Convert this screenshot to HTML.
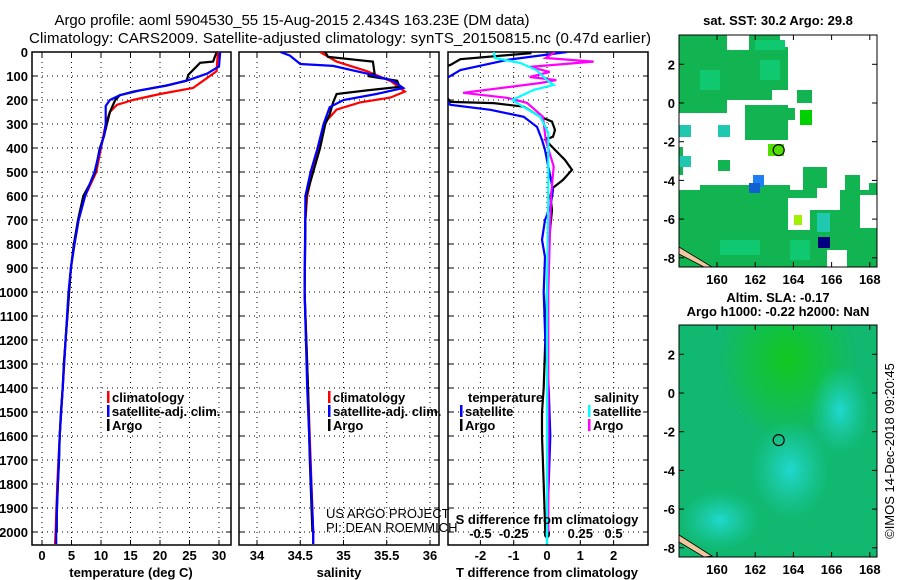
<!DOCTYPE html>
<html><head><meta charset="utf-8"><style>
html,body{margin:0;padding:0;background:#fff;}
svg{display:block;font-family:"Liberation Sans",sans-serif;}
.t{font-weight:bold;font-size:13px;}
</style></head><body>
<svg id="chart" width="900" height="580" viewBox="0 0 900 580" xmlns="http://www.w3.org/2000/svg">
<defs>
<clipPath id="c1"><rect x="32" y="52" width="199" height="493"/></clipPath>
<clipPath id="c2"><rect x="239" y="52" width="200" height="493"/></clipPath>
<clipPath id="c3"><rect x="448" y="52" width="200" height="493"/></clipPath>
<clipPath id="cm1"><rect x="679" y="35" width="198" height="232"/></clipPath>
<clipPath id="cm2"><rect x="679" y="325" width="198" height="232"/></clipPath>
<radialGradient id="g1" cx="0.55" cy="0.15" r="0.35"><stop offset="0" stop-color="#10c820"/><stop offset="1" stop-color="#10c820" stop-opacity="0"/></radialGradient>
<radialGradient id="g2" cx="0.5" cy="0.5" r="0.5"><stop offset="0" stop-color="#20d8d0"/><stop offset="1" stop-color="#20d0b0" stop-opacity="0"/></radialGradient>
</defs>
<text x="292" y="25" text-anchor="middle" textLength="475" font-size="15">Argo profile: aoml 5904530_55 15-Aug-2015 2.434S 163.23E (DM data)</text>
<text x="340" y="43" text-anchor="middle" textLength="622" font-size="15">Climatology: CARS2009. Satellite-adjusted climatology: synTS_20150815.nc (0.47d earlier)</text>
<g id="layer"></g>
</svg>
<script>
// ---- data ----
const depthTicks=[0,100,200,300,400,500,600,700,800,900,1000,1100,1200,1300,1400,1500,1600,1700,1800,1900,2000];
const tempTicks=[0,5,10,15,20,25,30];
const salTicks=[34,34.5,35,35.5,36];
const salTickLabels=["34","34.5","35","35.5","36"];
const tdTicks=[-2,-1,0,1,2];
const sdTicks=[-0.5,-0.25,0,0.25,0.5];
const sdTickLabels=["-0.5","-0.25","0","0.25","0.5"];

const argoTDepth=[0,40,45,95,120,140,165,180,200,250,300,350,400,500,550,600,700,800,900,1000,1100,1200,1300,1400,1500,1600,1700,1800,1900,2000];
const argoTemp=[29.6,29.0,26.8,24.8,24.5,21.0,15.5,13.2,12.4,11.5,11.0,10.5,9.8,9.0,8.1,7.0,6.1,5.4,4.9,4.6,4.3,4.0,3.7,3.5,3.2,3.0,2.9,2.7,2.5,2.5];
const climTDepth=[0,80,120,150,175,200,220,250,300,400,500,600,700,800,900,1000,1200,1400,1600,1800,2000,2050];
const climTemp=[29.8,29.6,27.3,25.6,20.0,15.4,12.7,11.5,10.8,10.0,9.2,7.3,6.2,5.5,4.9,4.6,4.0,3.5,3.0,2.6,2.3,2.2];
const satTDepth=[0,60,90,115,140,160,180,200,225,300,350,400,500,600,700,800,900,1000,1200,1400,1600,1800,2000,2050];
const satTemp=[30.2,30.0,28.0,25.1,21.2,16.6,13.2,11.5,10.8,10.8,10.5,9.9,8.9,7.3,6.2,5.5,4.9,4.5,4.0,3.5,3.0,2.7,2.4,2.4];

const argoSDepth=[0,20,40,90,100,120,145,160,175,210,260,300,400,500,600,700,1000,1400,1700,2000];
const argoSal=[34.79,34.82,35.34,35.36,35.28,35.62,35.65,35.27,34.92,34.88,34.84,34.79,34.73,34.65,34.57,34.56,34.55,34.59,34.61,34.64];
const climSDepth=[0,40,80,120,165,190,210,240,280,300,400,500,600,700,1000,1400,2000,2050];
const climSal=[34.73,34.92,35.27,35.54,35.71,35.54,35.19,34.92,34.82,34.78,34.72,34.64,34.58,34.56,34.55,34.59,34.65,34.65];
const satSDepth=[0,15,50,58,90,120,150,175,200,230,300,400,500,600,1000,1400,2000,2050];
const satSal=[34.27,34.38,34.50,34.88,35.27,35.57,35.69,35.38,35.00,34.84,34.77,34.70,34.62,34.56,34.55,34.58,34.65,34.65];

const argoTdDepth=[0,5,30,54,80,208,213,228,270,290,325,353,366,408,450,491,533,566,600,658,800,1000,1200,1400,1500,1600,1800,2000];
const argoTd=[-0.5,-0.5,-2.6,-2.9,-3.6,-2.9,-1.6,-0.7,-0.2,0.15,0.24,0.18,-0.05,0.24,0.54,0.75,0.48,0.18,0.1,0.15,0.05,0.0,-0.05,-0.1,-0.15,-0.15,-0.1,-0.05];
const satTdDepth=[0,33,75,108,130,220,241,270,312,366,408,575,645,700,783,854,1000,1200,1400,1600,1800,2000,2050];
const satTd=[0.6,-1.2,-2.6,-3.0,-3.6,-2.9,-1.7,-0.7,-0.3,-0.15,-0.06,0.18,0.1,-0.06,-0.15,-0.06,-0.1,-0.05,0.05,0.1,0.05,0.0,0.0];
const argoSdDepth=[0,25,40,62,83,104,117,129,170,191,212,270,366,478,600,1000,1500,2000];
const argoSd=[0.06,-0.01,0.35,-0.13,0.02,-0.13,0.07,-0.05,-0.63,-0.3,-0.15,-0.03,-0.01,0.05,0.03,0.01,0.01,0.01];
const satSdDepth=[0,25,46,75,117,137,158,200,228,270,337,600,1000,1500,2000,2050];
const satSd=[-0.4,-0.39,-0.2,-0.08,0.0,0.05,-0.1,-0.26,-0.18,-0.05,0.01,0.01,0.0,0.0,0.0,0.0];

const mapLatTicks=[2,0,-2,-4,-6,-8];
const mapLonTicks=[160,162,164,166,168];

// ---- scales ----
const yD=d=>52+d*0.24;
const xT=t=>42+t*5.9;
const xS=s=>257+(s-34)*86.5;
const xTd=t=>547+t*33.3;
const xSd=s=>547+s*133.2;
const NS="http://www.w3.org/2000/svg";
const L=document.getElementById('layer');
function mk(tag,at,parent){const e=document.createElementNS(NS,tag);for(const k in at)e.setAttribute(k,at[k]);(parent||L).appendChild(e);return e;}
function txt(x,y,s,cls,anchor,parent){const e=mk('text',{x:x,y:y,'text-anchor':anchor||'start'},parent);if(cls)e.setAttribute('class',cls);e.textContent=s;return e;}

function panel(x0,x1,xt,xs,labels,name){
  const g=mk('g',{});
  
  
  depthTicks.forEach(d=>{const y=yD(d);
    mk('line',{x1:x0,x2:x1,y1:y,y2:y,stroke:'#000','stroke-dasharray':'1,4','stroke-width':1},g);
    mk('line',{x1:x0,x2:x0+5,y1:y,y2:y,stroke:'#000'},g);mk('line',{x1:x1-5,x2:x1,y1:y,y2:y,stroke:'#000'},g);});
  xt.forEach((v,i)=>{const x=xs(v);
    mk('line',{x1:x,x2:x,y1:52,y2:545,stroke:'#000','stroke-dasharray':'1,4'},g);
    mk('line',{x1:x,x2:x,y1:52,y2:57,stroke:'#000'},g);mk('line',{x1:x,x2:x,y1:540,y2:545,stroke:'#000'},g);
    if(labels){const t=txt(x,560,labels[i],'t','middle',g);}});
  mk('rect',{x:x0,y:52,width:x1-x0,height:493,fill:'none',stroke:'#000','stroke-width':1.5},g);
  return g;
}
function line(xs,vals,deps,col,clip,name){
  const pts=vals.map((v,i)=>xs(v).toFixed(1)+','+yD(deps[i]).toFixed(1)).join(' ');
  const p=mk('polyline',{points:pts,fill:'none',stroke:col,'stroke-width':2.2,'clip-path':'url(#'+clip+')'});
  
  
}
depthTicks.forEach(d=>{const t=txt(28,yD(d)+5,String(d),'t','end');});

panel(32,231,tempTicks,xT,tempTicks.map(String),'temperature-panel');
panel(239,439,salTicks,xS,salTickLabels,'salinity-panel');
panel(448,648,tdTicks,xTd,tdTicks.map(String),'difference-panel');
sdTicks.forEach((v,i)=>{const t=txt(xSd(v),538,sdTickLabels[i],'t','middle');});

line(xT,climTemp,climTDepth,'#ff0000','c1','temp-climatology-line');
line(xT,argoTemp,argoTDepth,'#000000','c1','temp-argo-line');
line(xT,satTemp,satTDepth,'#0000ff','c1','temp-satellite-line');
line(xS,climSal,climSDepth,'#ff0000','c2','sal-climatology-line');
line(xS,argoSal,argoSDepth,'#000000','c2','sal-argo-line');
line(xS,satSal,satSDepth,'#0000ff','c2','sal-satellite-line');
line(xTd,argoTd,argoTdDepth,'#000000','c3','tdiff-argo-line');
line(xTd,satTd,satTdDepth,'#0000ff','c3','tdiff-satellite-line');
line(xSd,argoSd,argoSdDepth,'#ff00ff','c3','sdiff-argo-line');
line(xSd,satSd,satSdDepth,'#00ffff','c3','sdiff-satellite-line');

let e;
e=txt(131,577,'temperature (deg C)','t','middle');
e=txt(339,577,'salinity','t','middle');
e=txt(547,577,'T difference from climatology','t','middle');
e=txt(547,524,'S difference from climatology','t','middle');
e=txt(326,518,'US ARGO PROJECT','','start');e.setAttribute('font-size','13');
e=txt(326,532,'PI: DEAN ROEMMICH','','start');e.setAttribute('font-size','13');

function legend(x,y,col,label){
  const g=mk('g',{});
  
  
  mk('rect',{x:x,y:y-11,width:2.5,height:12,fill:col},g);
  txt(x+5,y,label,'t','start',g);
}
legend(107,402,'#ff0000','climatology');legend(107,416,'#0000ff','satellite-adj. clim.');legend(107,430,'#000','Argo');
legend(328,402,'#ff0000','climatology');legend(328,416,'#0000ff','satellite-adj. clim.');legend(328,430,'#000','Argo');
e=txt(468,402,'temperature','t','start');
e=txt(594,402,'salinity','t','start');
legend(460,416,'#0000ff','satellite');legend(460,430,'#000','Argo');
legend(588,416,'#00ffff','satellite');legend(588,430,'#ff00ff','Argo');

// ---- maps ----
const lonX=lon=>717+(lon-160)*19.1;
function map(top,lat0y,name,fill){
  const latY=lat=>lat0y-lat*19.35;
  const g=mk('g',{});
  
  
  fill(g);
  mk('rect',{x:679,y:top,width:198,height:232,fill:'none',stroke:'#000','stroke-width':1},g);
  mapLatTicks.forEach(l=>{const y=latY(l);
    mk('line',{x1:679,x2:684,y1:y,y2:y,stroke:'#000'},g);mk('line',{x1:872,x2:877,y1:y,y2:y,stroke:'#000'},g);
    txt(675,y+5,String(l),'t','end',g);});
  mapLonTicks.forEach(l=>{const x=lonX(l);
    mk('line',{x1:x,x2:x,y1:top,y2:top+5,stroke:'#000'},g);mk('line',{x1:x,x2:x,y1:top+227,y2:top+232,stroke:'#000'},g);
    txt(x,top+249,String(l),'t','middle',g);});
  mk('circle',{cx:lonX(163.23),cy:latY(-2.434),r:5.5,fill:'none',stroke:'#000','stroke-width':1.2},g);
}
function R(g,b,c){mk('rect',{x:b[0],y:b[1],width:b[2]-b[0],height:b[3]-b[1],fill:c,'clip-path':'url(#cm1)'},g);}
map(35,103,'sst-map',function(g){
  mk('rect',{x:679,y:35,width:198,height:232,fill:'#fff'},g);
  const G='#12b451';
  [[679,35,727,113],[690,50,772,100],[749,35,780,58],[753,47,788,90],[745,105,788,140],[784,108,795,120],[797,90,812,103],
   [679,147,683,175],[718,160,730,171],[803,167,827,193],[845,175,860,193],[869,183,877,194],
   [679,190,877,267],[700,185,790,195]].forEach(b=>R(g,b,G));
  [[788,198,817,230],[817,188,840,227],[860,195,877,228],[827,250,847,267]].forEach(b=>R(g,b,'#fff'));
  R(g,[810,210,840,235],G);
  [[755,40,785,50],[760,60,780,80],[700,70,720,90],[720,240,760,255],[790,240,810,260]].forEach(b=>R(g,b,'#0fc870'));
  [[679,125,691,137],[718,125,730,137],[679,156,691,167],[817,213,830,232]].forEach(b=>R(g,b,'#20c8b0'));
  R(g,[800,110,812,125],'#00d000');
  R(g,[768,144,784,156],'#50e000');
  R(g,[753,175,764,187],'#1e80f0');
  R(g,[749,183,760,193],'#1060d0');
  R(g,[818,237,830,248],'#000080');
  R(g,[794,215,802,225],'#a0f000');
  mk('polygon',{points:'679,247 712,267 704,267 679,254',fill:'#f0c8a0',stroke:'#000','stroke-width':0.8,'clip-path':'url(#cm1)'},g);
});
map(325,393,'sla-map',function(g){
  mk('rect',{x:679,y:325,width:198,height:232,fill:'#10b870'},g);
  mk('rect',{x:679,y:325,width:198,height:232,fill:'url(#g1)'},g);
  mk('ellipse',{cx:790,cy:470,rx:40,ry:50,fill:'url(#g2)'},g);
  mk('ellipse',{cx:840,cy:410,rx:30,ry:45,fill:'url(#g2)'},g);
  mk('ellipse',{cx:720,cy:520,rx:40,ry:30,fill:'url(#g2)'},g);
  mk('polygon',{points:'679,535 712,556 704,557 679,542',fill:'#f0c8a0',stroke:'#000','stroke-width':0.8},g);
});
e=txt(778,25,'sat. SST: 30.2 Argo: 29.8','t','middle');
e=txt(778,302,'Altim. SLA: -0.17','t','middle');
e=txt(778,316,'Argo h1000: -0.22 h2000: NaN','t','middle');
e=txt(0,0,'©IMOS 14-Dec-2018 09:20:45','','middle');e.setAttribute('font-size','13');e.setAttribute('transform','translate(894,451) rotate(-90)');
</script>
</body></html>
